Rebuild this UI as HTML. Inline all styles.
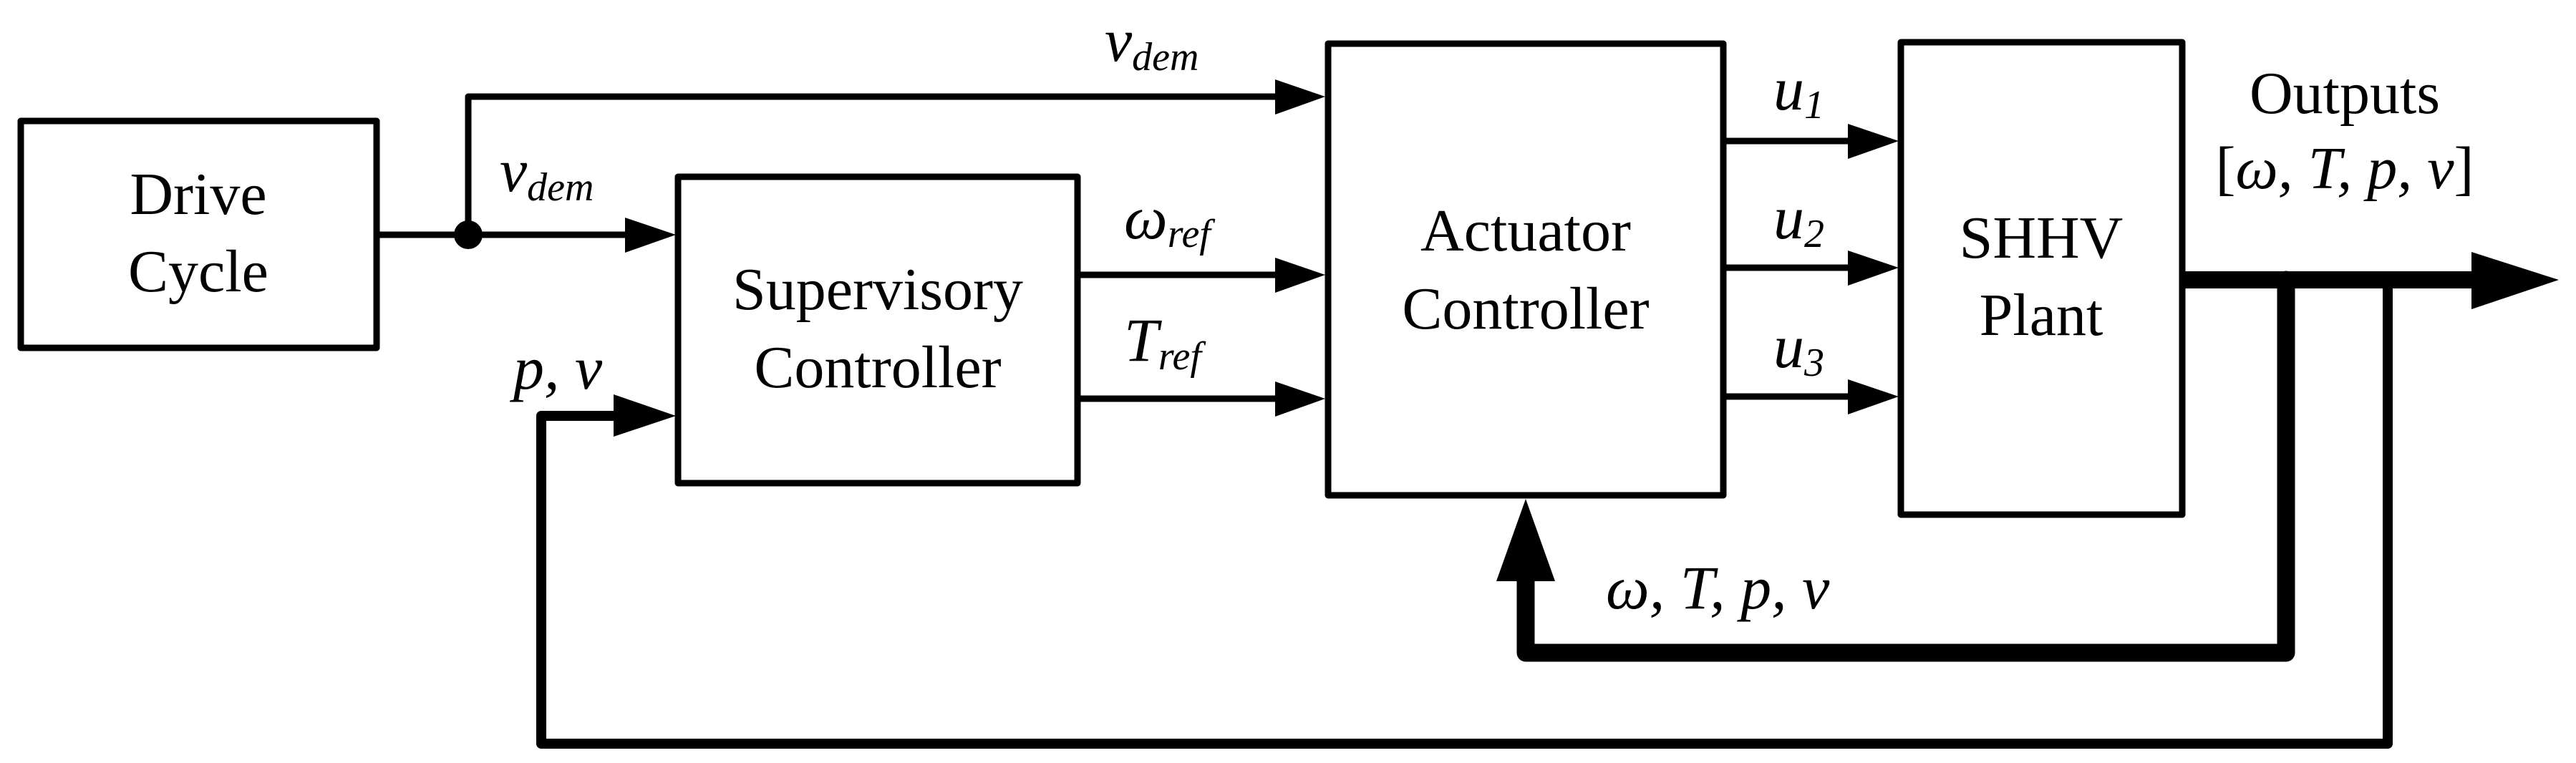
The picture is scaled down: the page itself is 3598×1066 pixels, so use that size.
<!DOCTYPE html>
<html><head><meta charset="utf-8"><style>html,body{margin:0;padding:0;background:#fff}svg{display:block}svg text,svg tspan{font-family:"Liberation Serif","Times New Roman",Times,"Nimbus Roman","DejaVu Serif Condensed","DejaVu Serif",serif !important}</style></head>
<body>
<svg width="3598" height="1066" viewBox="0 0 3598 1066" xmlns="http://www.w3.org/2000/svg" fill="#000">
<g fill="none" stroke="#000" stroke-linejoin="round" stroke-linecap="round">
 <rect x="29" y="169" width="497" height="317" stroke-width="9"/>
 <rect x="947" y="247" width="558" height="428" stroke-width="9"/>
 <rect x="1855" y="61" width="552" height="631" stroke-width="9"/>
 <rect x="2655" y="59" width="393" height="660" stroke-width="9"/>
 <polyline points="526,328 880,328" stroke-width="9"/>
 <polyline points="654,328 654,135 1790,135" stroke-width="9"/>
 <line x1="1505" y1="384" x2="1790" y2="384" stroke-width="9"/>
 <line x1="1505" y1="557" x2="1790" y2="557" stroke-width="9"/>
 <line x1="2407" y1="197" x2="2590" y2="197" stroke-width="9"/>
 <line x1="2407" y1="374" x2="2590" y2="374" stroke-width="9"/>
 <line x1="2407" y1="554" x2="2590" y2="554" stroke-width="9"/>
 <line x1="3048" y1="391" x2="3460" y2="391" stroke-width="24" stroke-linecap="butt"/>
 <polyline points="3193,391 3193,912 2131,912 2131,805" stroke-width="25"/>
 <polyline points="3335,391 3335,1039 756,1039 756,581 865,581" stroke-width="14"/>
</g>
<circle cx="654" cy="328" r="20"/>
<polygon points="873,304 944,328 873,353"/>
<polygon points="1781,111 1851,135 1781,160"/>
<polygon points="1781,360 1851,384 1781,409"/>
<polygon points="1781,533 1851,557 1781,582"/>
<polygon points="2581,173 2652,197 2581,222"/>
<polygon points="2581,350 2652,374 2581,399"/>
<polygon points="2581,530 2652,554 2581,579"/>
<polygon points="857,551 944,581 857,610"/>
<polygon points="3452,352 3574,391 3452,432"/>
<polygon points="2090,812 2131,697 2172,812"/>
<g font-size="84" text-anchor="middle">
 <text x="277" y="299">Drive</text>
 <text x="277" y="407">Cycle</text>
 <text x="1226" y="432">Supervisory</text>
 <text x="1226" y="541">Controller</text>
 <text x="2131" y="350">Actuator</text>
 <text x="2131" y="459">Controller</text>
 <text x="2851" y="360">SHHV</text>
 <text x="2851" y="468">Plant</text>
 <text x="3275" y="158">Outputs</text>
 <text x="3275" y="263">[<tspan font-style="italic">ω, T, p, v</tspan>]</text>
</g>
<g font-size="86" font-style="italic">
 <text x="1543" y="85">v<tspan font-size="56" dy="13">dem</tspan></text>
 <text x="698" y="267">v<tspan font-size="56" dy="13">dem</tspan></text>
 <text x="1570" y="333">ω<tspan font-size="56" dy="12">ref</tspan></text>
 <text x="1570" y="504">T<tspan font-size="56" dy="12">ref</tspan></text>
 <text x="717" y="543">p, v</text>
 <text x="2477" y="153">u<tspan font-size="56" dy="12">1</tspan></text>
 <text x="2477" y="333">u<tspan font-size="56" dy="12">2</tspan></text>
 <text x="2477" y="513">u<tspan font-size="56" dy="12">3</tspan></text>
 <text x="2243" y="850">ω, T, p, v</text>
</g>
</svg>
</body></html>
